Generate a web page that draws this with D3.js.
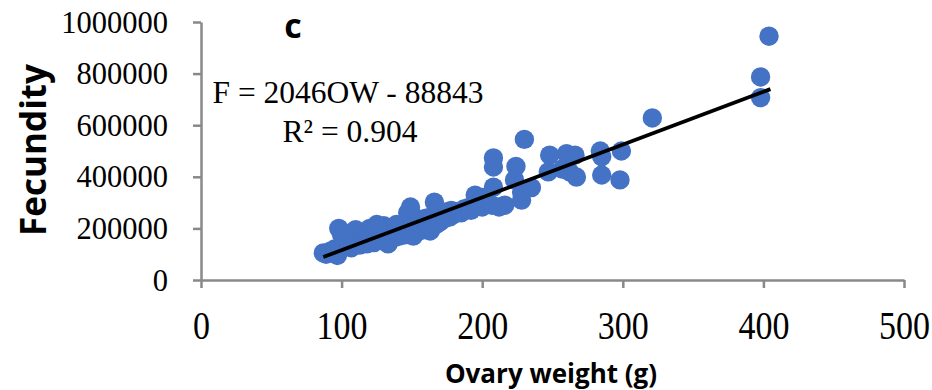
<!DOCTYPE html>
<html>
<head>
<meta charset="utf-8">
<script src="https://cdn.jsdelivr.net/npm/d3@7"></script>
<style>
  body { margin: 0; background: #fff; }
  svg { display: block; }
</style>
</head>
<body>
<div id="chart"></div>
<script>
// ovary weight (g)
let ovaryWeight = [
    87, 89, 92, 95, 97, 98, 99, 100, 102, 104, 105, 107, 108, 110, 110, 112, 113, 115, 116, 118,
    119, 120, 121, 123, 124, 125, 126, 127, 128, 130, 131, 132, 133, 135, 136, 138, 139, 140, 141, 143,
    145, 146, 147, 148, 149, 150, 151, 152, 153, 155, 156, 157, 158, 160, 161, 162, 163, 165, 166, 167,
    168, 169, 170, 172, 174, 175, 177, 178, 180, 182, 185, 187, 190, 192, 195, 196, 198, 200, 200,
    207, 208, 208, 208, 212, 216, 223, 224, 228, 228, 230, 235, 247, 248, 257, 260, 262, 266, 267,
    284, 285, 285, 298, 299, 321, 398, 398, 404
];
// fecundity
let fecundity = [
    105000, 100000, 112000, 120000, 95000, 200000, 118000, 175000, 140000, 130000, 155000, 125000, 185000, 195000, 145000, 160000, 135000, 170000, 150000, 140000,
    180000, 200000, 160000, 145000, 205000, 215000, 175000, 155000, 190000, 210000, 165000, 200000, 140000, 180000, 205000, 165000, 215000, 190000, 170000, 200000,
    175000, 210000, 260000, 190000, 283000, 220000, 170000, 200000, 240000, 190000, 215000, 230000, 195000, 240000, 205000, 225000, 190000, 250000, 302000, 215000,
    260000, 235000, 225000, 250000, 240000, 265000, 245000, 270000, 255000, 265000, 260000, 275000, 280000, 270000, 329000, 290000, 302000, 283000, 320000,
    290000, 360000, 473000, 438000, 283000, 290000, 388000, 440000, 310000, 341000, 545000, 358000, 419000, 484000, 430000, 490000, 420000, 484000, 399000,
    500000, 478000, 407000, 388000, 500000, 628000, 787000, 707000, 945000
];
let xTicks = [0, 100, 200, 300, 400, 500];
let yTicks = [0, 200000, 400000, 600000, 800000, 1000000];
// regression: F = 2046 OW - 88843
let slope = 2046;
let intercept = -88843;
let fitRange = [87, 405];

let data = ovaryWeight.map((w, i) => ({w: w, f: fecundity[i]}));

let width = 932, height = 390;
let svg = d3.select('#chart').append('svg')
    .attr('width', width)
    .attr('height', height);

let xScale = d3.scaleLinear().domain([0, 500]).range([201, 904]);
let yScale = d3.scaleLinear().domain([0, 1000000]).range([280, 22]);

let axisColor = '#898989';
let serif = '"Liberation Serif", "Times New Roman", serif';
let sans = '"Open Sans", "Liberation Sans", sans-serif';

//x axis
let gx = svg.append('g').attr('transform', 'translate(0,' + yScale(0) + ')')
    .call(d3.axisBottom(xScale).tickValues(xTicks).tickSize(8).tickSizeOuter(0).tickFormat(d3.format('d')));
gx.select('.domain').attr('stroke', axisColor).attr('stroke-width', 2.5);
gx.selectAll('.tick line').attr('stroke', axisColor).attr('stroke-width', 2.5);
gx.selectAll('.tick text')
    .attr('fill', '#000')
    .attr('font-family', serif)
    .attr('font-size', 34)
    .attr('y', 0)
    .attr('dy', 0)
    .attr('transform', 'translate(0,59) scale(1,1.2)');

//y axis
let gy = svg.append('g').attr('transform', 'translate(' + xScale(0) + ',0)')
    .call(d3.axisLeft(yScale).tickValues(yTicks).tickSize(8).tickSizeOuter(0).tickFormat(d3.format('d')));
gy.select('.domain').attr('stroke', axisColor).attr('stroke-width', 2.5);
gy.selectAll('.tick line').attr('stroke', axisColor).attr('stroke-width', 2.5);
gy.selectAll('.tick text')
    .attr('fill', '#000')
    .attr('font-family', serif)
    .attr('font-size', 30.5)
    .attr('x', -33)
    .attr('dy', '0.33em');

//points
svg.append('g').selectAll('circle')
    .data(data)
    .enter()
    .append('circle')
    .attr('cx', d => xScale(d.w))
    .attr('cy', d => yScale(d.f))
    .attr('r', 9.7)
    .attr('fill', '#4472C4');

//trend line
let line = d3.line()
    .x(d => xScale(d))
    .y(d => yScale(slope * d + intercept));
svg.append('path')
    .datum(fitRange)
    .attr('d', line)
    .attr('fill', 'none')
    .attr('stroke', '#000')
    .attr('stroke-width', 3.8);

//equation
svg.append('text')
    .attr('x', 348).attr('y', 103)
    .attr('text-anchor', 'middle')
    .attr('font-family', serif).attr('font-size', 31.5)
    .text('F = 2046OW - 88843');
svg.append('text')
    .attr('x', 350).attr('y', 142)
    .attr('text-anchor', 'middle')
    .attr('font-family', serif).attr('font-size', 31.5)
    .text('R² = 0.904');

//panel letter
svg.append('text')
    .attr('x', 293).attr('y', 38)
    .attr('text-anchor', 'middle')
    .attr('font-family', sans).attr('font-weight', 'bold').attr('font-size', 34)
    .text('c');

//axis titles
svg.append('text')
    .attr('transform', 'translate(46,150) rotate(-90)')
    .attr('text-anchor', 'middle')
    .attr('font-family', sans).attr('font-weight', 'bold').attr('font-size', 35)
    .text('Fecundity');
svg.append('text')
    .attr('x', 551).attr('y', 383)
    .attr('text-anchor', 'middle')
    .attr('font-family', sans).attr('font-weight', 'bold').attr('font-size', 26)
    .text('Ovary weight (g)');
</script>
</body>
</html>
